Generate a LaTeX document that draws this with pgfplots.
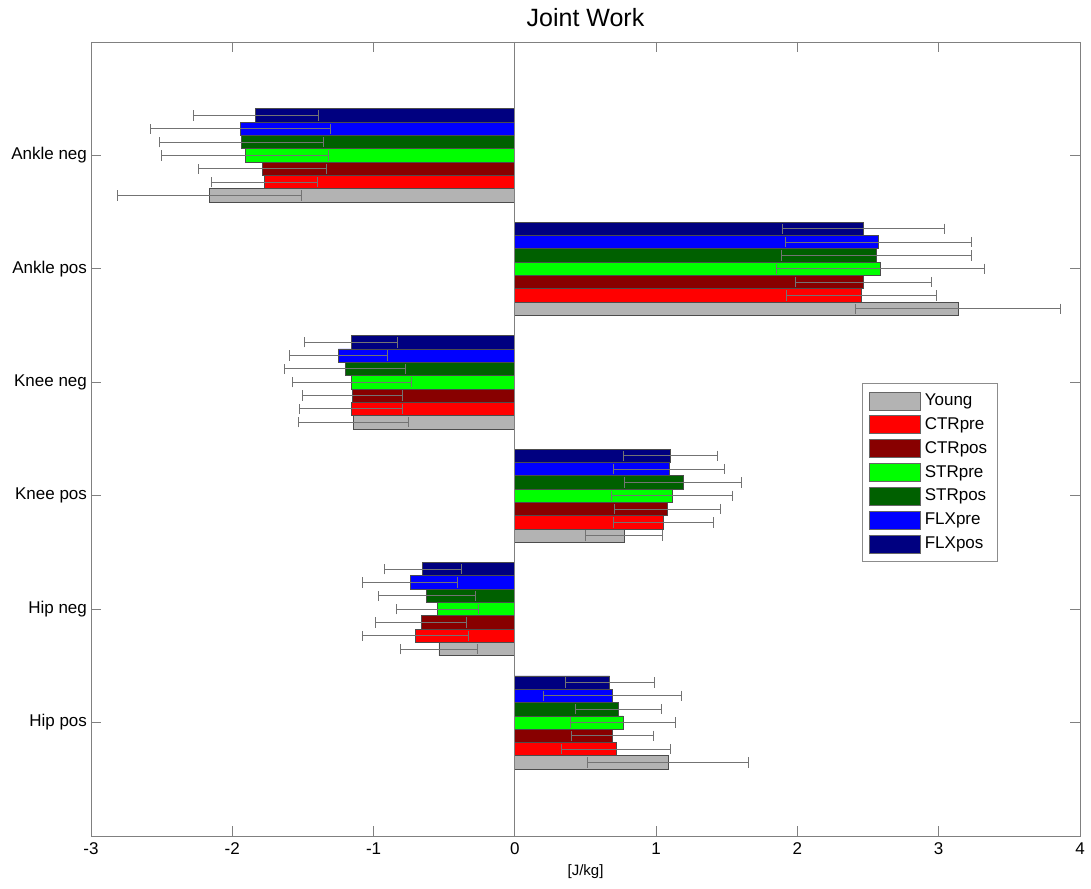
\documentclass[border=0pt]{standalone}
\usepackage{pgfplots}
\pgfplotsset{compat=1.18}
\usepackage{fontspec}
\setmainfont{Liberation Sans}
\definecolor{cYoung}{RGB}{179,179,179}
\definecolor{cCTRpre}{RGB}{255,0,0}
\definecolor{cCTRpos}{RGB}{136,0,0}
\definecolor{cSTRpre}{RGB}{0,255,0}
\definecolor{cSTRpos}{RGB}{0,96,0}
\definecolor{cFLXpre}{RGB}{0,0,255}
\definecolor{cFLXpos}{RGB}{0,0,128}
\definecolor{axgray}{RGB}{128,128,128}
\begin{document}
\begin{tikzpicture}
\useasboundingbox (-45.5pt,-26pt) rectangle (500pt,418pt);
\begin{axis}[
  at={(0,0)}, anchor=south west,
  width=494.5pt, height=397pt, scale only axis,
  xbar, bar width=0.1175,
  xmin=-3, xmax=4, ymin=0, ymax=7,
  xtick={-3,...,4}, xticklabels={-3,-2,-1,0,1,2,3,4},
  ytick={1,...,6}, yticklabels={Hip pos,Hip neg,Knee pos,Knee neg,Ankle pos,Ankle neg},
  tick align=inside, major tick length=5pt,
  axis line style={axgray}, tick style={axgray, line width=0.5pt},
  tick label style={font=\fontsize{8.5}{10}\selectfont},
  yticklabel style={xshift=1.5pt},
  title={Joint Work}, title style={font=\fontsize{12.5}{14}\selectfont, yshift=-2pt},
  xlabel={[J/kg]}, xlabel style={font=\fontsize{7.5}{9}\selectfont, yshift=2pt},
  every axis plot/.append style={draw=black!70, line width=0.4pt,
     error bars/x dir=both, error bars/x explicit,
     error bars/error mark=|,
     error bars/error bar style={black!55, line width=0.5pt},
     error bars/error mark options={mark size=2.6pt, black!55, line width=0.5pt}},
  legend style={at={(0.78,0.57)}, anchor=north west, draw=black!45,
     font=\fontsize{8.5}{10}\selectfont, row sep=0.5pt, inner sep=3pt,
     cells={anchor=west}},
  legend image code/.code={\draw[#1, draw=black!60, line width=0.5pt] (0pt,-4.5pt) rectangle (25.5pt,4.5pt);},
]
\addplot[fill=cYoung, bar shift=-0.3525] coordinates {
 (1.084,1) +- (0.57,0)
 (-0.537,2) +- (0.274,0)
 (0.773,3) +- (0.271,0)
 (-1.143,4) +- (0.39,0)
 (3.137,5) +- (0.725,0)
 (-2.163,6) +- (0.65,0)
};
\addplot[fill=cCTRpre, bar shift=-0.235] coordinates {
 (0.718,1) +- (0.385,0)
 (-0.702,2) +- (0.377,0)
 (1.053,3) +- (0.353,0)
 (-1.159,4) +- (0.365,0)
 (2.456,5) +- (0.53,0)
 (-1.774,6) +- (0.375,0)
};
\addplot[fill=cCTRpos, bar shift=-0.1175] coordinates {
 (0.690,1) +- (0.29,0)
 (-0.664,2) +- (0.325,0)
 (1.077,3) +- (0.375,0)
 (-1.150,4) +- (0.355,0)
 (2.469,5) +- (0.48,0)
 (-1.786,6) +- (0.45,0)
};
\addplot[fill=cSTRpre, bar shift=0] coordinates {
 (0.766,1) +- (0.37,0)
 (-0.549,2) +- (0.29,0)
 (1.112,3) +- (0.427,0)
 (-1.154,4) +- (0.42,0)
 (2.590,5) +- (0.735,0)
 (-1.908,6) +- (0.59,0)
};
\addplot[fill=cSTRpos, bar shift=0.1175] coordinates {
 (0.735,1) +- (0.306,0)
 (-0.624,2) +- (0.343,0)
 (1.190,3) +- (0.417,0)
 (-1.201,4) +- (0.43,0)
 (2.559,5) +- (0.67,0)
 (-1.936,6) +- (0.58,0)
};
\addplot[fill=cFLXpre, bar shift=0.235] coordinates {
 (0.690,1) +- (0.49,0)
 (-0.742,2) +- (0.338,0)
 (1.091,3) +- (0.39,0)
 (-1.249,4) +- (0.345,0)
 (2.572,5) +- (0.658,0)
 (-1.943,6) +- (0.635,0)
};
\addplot[fill=cFLXpos, bar shift=0.3525] coordinates {
 (0.671,1) +- (0.316,0)
 (-0.653,2) +- (0.272,0)
 (1.102,3) +- (0.33,0)
 (-1.159,4) +- (0.33,0)
 (2.469,5) +- (0.573,0)
 (-1.833,6) +- (0.445,0)
};
\addplot[axgray, line width=0.5pt, forget plot, sharp plot, no marks] coordinates {(0,0) (0,7)};
\legend{Young,CTRpre,CTRpos,STRpre,STRpos,FLXpre,FLXpos}
\end{axis}
\end{tikzpicture}
\end{document}
